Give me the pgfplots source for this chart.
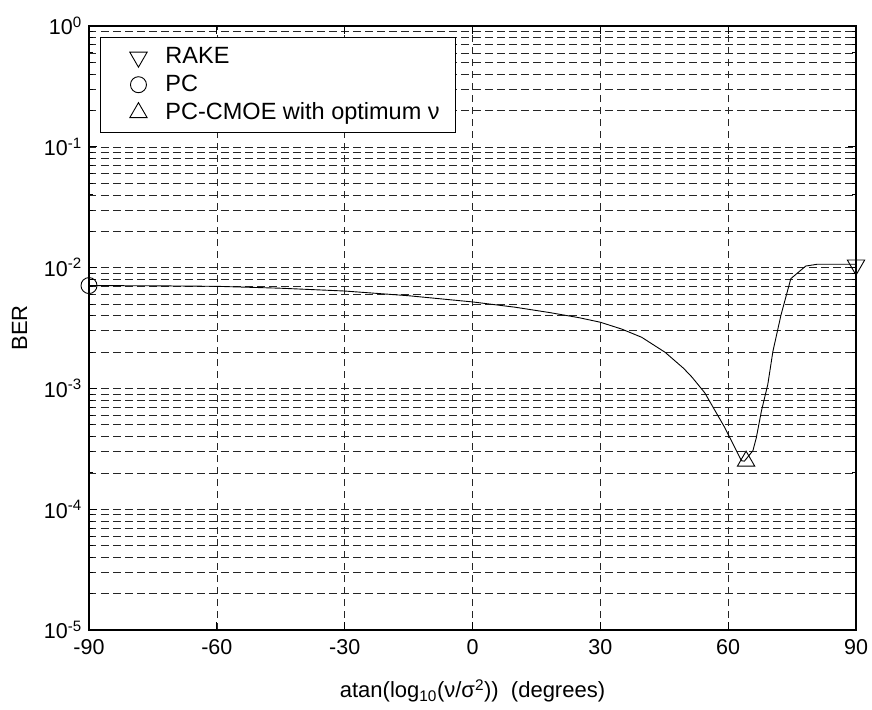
\documentclass[border=0pt]{standalone}
\usepackage{fontspec}
\setmainfont{Liberation Sans}
\usepackage{pgfplots}
\pgfplotsset{compat=1.18}
\pgfplotsset{mylegimg/.style={legend image code/.code={\path[draw=none,fill=none] (0pt,-6pt) rectangle (62pt,6pt); \draw[##1] plot coordinates {(37pt,0pt)};}}}
\begin{document}
\fontsize{21.5}{25}\selectfont
\begin{tikzpicture}
\path[use as bounding box] (-89pt,-79pt) rectangle (783pt,630pt);
\begin{axis}[
  at={(0pt,0pt)}, anchor=south west,
  scale only axis, width=767pt, height=604pt,
  ymode=log, xmin=-90, xmax=90, ymin=1e-5, ymax=1,
  xtick={-90,-60,-30,0,30,60,90},
  xticklabels={-90,-60,-30,0,30,60,90},
  ytick={1e-5,1e-4,1e-3,1e-2,1e-1,1},
  yticklabels={10\textsuperscript{-5},10\textsuperscript{-4},10\textsuperscript{-3},10\textsuperscript{-2},10\textsuperscript{-1},10\textsuperscript{0}},
  minor ytick={2e-5,3e-5,4e-5,5e-5,6e-5,7e-5,8e-5,9e-5,
               2e-4,3e-4,4e-4,5e-4,6e-4,7e-4,8e-4,9e-4,
               2e-3,3e-3,4e-3,5e-3,6e-3,7e-3,8e-3,9e-3,
               2e-2,3e-2,4e-2,5e-2,6e-2,7e-2,8e-2,9e-2,
               2e-1,3e-1,4e-1,5e-1,6e-1,7e-1,8e-1,9e-1},
  tick label style={font=\fontsize{21.5}{25}\selectfont},
  label style={font=\fontsize{22}{26}\selectfont},
  tick align=inside,
  major tick length=8pt, minor tick length=4pt,
  every tick/.style={black, line width=0.8pt},
  grid=both,
  major grid style={black!85, line width=0.6pt, dash pattern=on 7.5pt off 4.5pt},
  minor grid style={black!85, line width=0.6pt, dash pattern=on 7.5pt off 4.5pt},
  axis line style={line width=1.2pt},
  xticklabel style={yshift=-2pt},
  xlabel={atan(log\textsubscript{10}(ν/σ\textsuperscript{2}))\ \ (degrees)},
  ylabel={BER},
  xlabel style={at={(axis description cs:0.5,-0.101)}, anchor=center},
  ylabel style={at={(axis description cs:-0.0904,0.5)}, anchor=center},
  legend style={at={(axis description cs:0.0143,0.9818)}, anchor=north west,
    draw=black, line width=1pt, fill=white, inner xsep=1pt, inner ysep=8pt,
    row sep=4pt, font=\fontsize{23.5}{27}\selectfont},
  legend cell align=left,
]
\addplot[black, line width=0.9pt, forget plot] coordinates {
(-90,7.1e-3) (-75,7.07e-3) (-60,7.0e-3) (-45,6.75e-3) (-30,6.4e-3)
(-15,5.85e-3) (0,5.2e-3) (10,4.7e-3) (18,4.25e-3) (25,3.85e-3)
(30,3.53e-3) (35,3.1e-3) (39.7,2.65e-3) (45.2,1.99e-3) (49.5,1.47e-3)
(51.5,1.24e-3) (54.5,9.2e-4) (59.2,4.74e-4) (63.1,2.52e-4) (63.8,2.5e-4)
(65.8,3.05e-4) (66.6,3.9e-4) (67.8,6.5e-4) (69.3,1.08e-3) (70.5,2.03e-3)
(72.4,4.06e-3) (74.7,8.1e-3) (78.2,1.03e-2) (80.9,1.066e-2) (90,1.066e-2)
};
\addplot[only marks, mark=triangle, mark size=10pt, mark options={rotate=180, black, line width=0.9pt, fill=none}, mylegimg] coordinates {(90,1.05e-2)};
\addlegendentry{RAKE}
\addplot[only marks, mark=o, mark size=8pt, mark options={black, line width=0.9pt}, mylegimg] coordinates {(-90,7.1e-3)};
\addlegendentry{PC}
\addplot[only marks, mark=triangle, mark size=10pt, mark options={black, line width=0.9pt, fill=none}, mylegimg] coordinates {(64.2,2.5e-4)};
\addlegendentry{PC-CMOE with optimum ν\kern13pt\null}
\end{axis}
\end{tikzpicture}
\end{document}
